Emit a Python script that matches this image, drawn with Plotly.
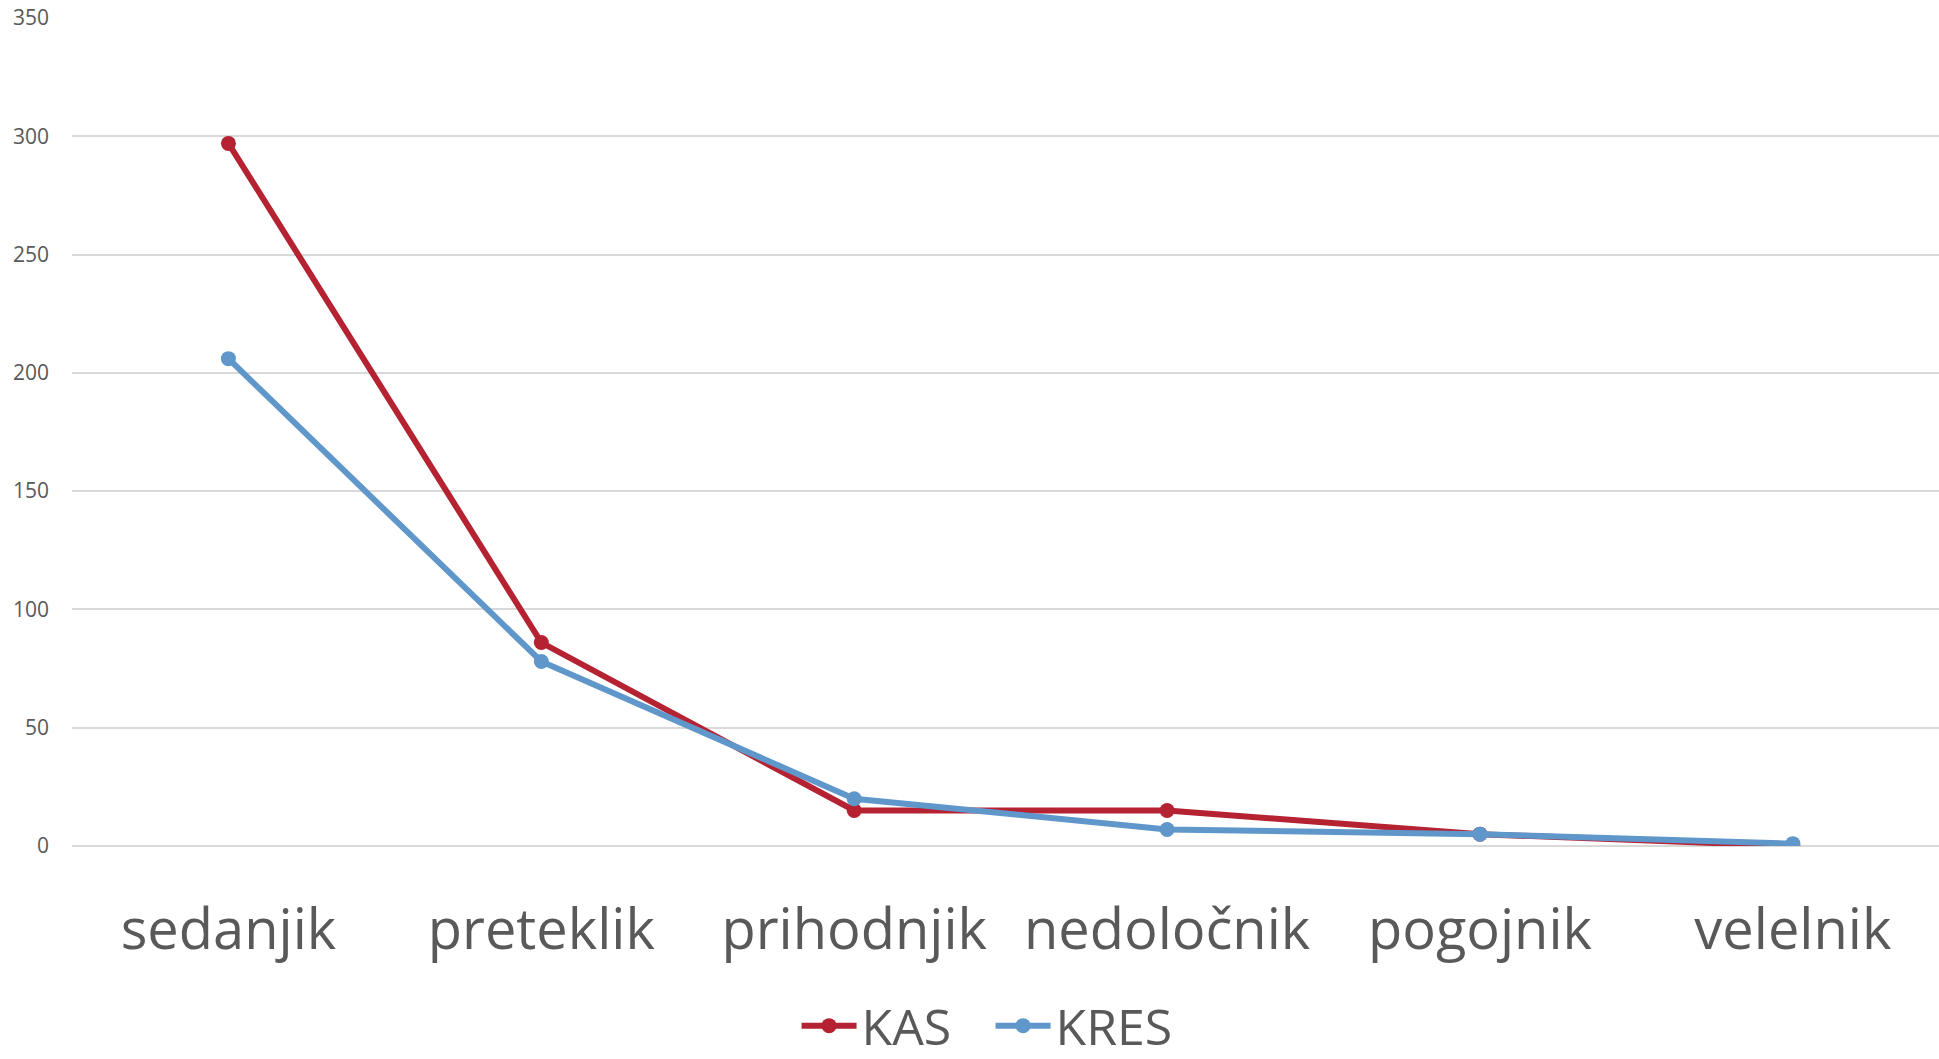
import plotly.graph_objects as go

# Verb forms (categories) and counts per corpus
categories = ["sedanjik", "preteklik", "prihodnjik", "nedoločnik", "pogojnik", "velelnik"]
kas_values = [297, 86, 15, 15, 5, 0]
kres_values = [206, 78, 20, 7, 5, 1]
y_ticks = [0, 50, 100, 150, 200, 250, 300, 350]

KAS_COLOR = "#B52232"
KRES_COLOR = "#5F97CB"
TEXT_COLOR = "#595959"
GRID_COLOR = "#D9D9D9"

fig = go.Figure()

fig.add_trace(go.Scatter(
    x=categories, y=kas_values, name="KAS", mode="lines+markers",
    line=dict(color=KAS_COLOR, width=6),
    marker=dict(color=KAS_COLOR, size=15),
))
fig.add_trace(go.Scatter(
    x=categories, y=kres_values, name="KRES", mode="lines+markers",
    line=dict(color=KRES_COLOR, width=6),
    marker=dict(color=KRES_COLOR, size=15),
))

fig.update_layout(
    width=1939, height=1059,
    margin=dict(l=72, r=0, t=18, b=213, autoexpand=False),
    paper_bgcolor="white", plot_bgcolor="white",
    font=dict(family="Open Sans", color=TEXT_COLOR),
    showlegend=True,
    legend=dict(
        orientation="h", x=0.492, xanchor="center", y=-0.217, yanchor="middle",
        font=dict(size=50, color=TEXT_COLOR), itemwidth=55,
        entrywidth=124, entrywidthmode="pixels",
        bgcolor="rgba(0,0,0,0)",
    ),
    xaxis=dict(
        type="category", range=[-0.5, 5.467],
        showgrid=False, zeroline=False, showline=False, ticks="",
        tickfont=dict(size=56, color=TEXT_COLOR), ticklabelstandoff=46,
    ),
    yaxis=dict(
        range=[0, 350], tickvals=y_ticks,
        showgrid=True, gridcolor=GRID_COLOR, gridwidth=1.5,
        zeroline=True, zerolinecolor=GRID_COLOR, zerolinewidth=1.5,
        showline=False, ticks="",
        tickfont=dict(size=21, color=TEXT_COLOR), ticklabelstandoff=22,
    ),
)

fig.write_html("out.html")
